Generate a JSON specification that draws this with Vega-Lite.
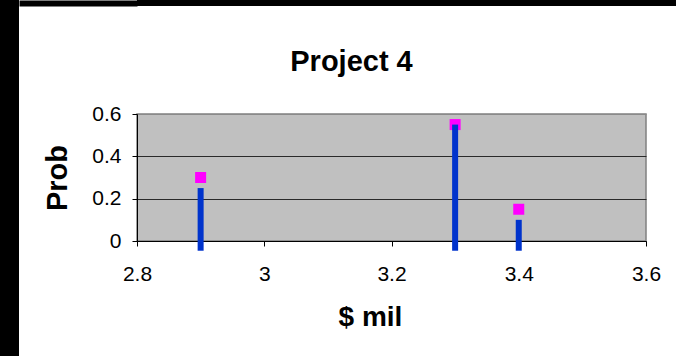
{
  "$schema": "https://vega.github.io/schema/vega-lite/v6.json",
  "background": "white",
  "padding": 0,
  "spacing": -3,
  "config": {"font": "Liberation Sans"},
  "hconcat": [
    {
      "width": 19,
      "height": 356,
      "data": {"values": []},
      "mark": "rect",
      "encoding": {},
      "view": {"fill": "black", "stroke": null}
    },
    {
      "spacing": -3,
      "vconcat": [
        {
          "width": 539,
          "height": 6,
          "data": {"values": [{"v": 0}]},
          "mark": {"type": "point", "opacity": 0},
          "encoding": {
            "y": {
              "field": "v",
              "type": "quantitative",
              "scale": {"domain": [0, 1]},
              "axis": {
                "values": [0.5],
                "tickSize": 118,
                "tickWidth": 6,
                "tickColor": "black",
                "tickCap": "butt",
                "labels": false,
                "domain": false,
                "grid": false,
                "title": null
              }
            }
          },
          "view": {"fill": "black", "stroke": null}
        },
        {
          "width": 509,
          "height": 127,
          "title": {
            "text": ["", "Project 4"],
            "fontSize": 29,
            "fontWeight": "bold",
            "color": "black",
            "lineHeight": 41,
            "offset": 26,
            "anchor": "middle",
            "frame": "group",
            "dx": -40
          },
          "view": {"fill": "#C0C0C0", "stroke": "#808080", "strokeWidth": 1.5},
          "data": {
            "values": [
              {"mil": 2.9, "prob": 0.3, "line": 0.25},
              {"mil": 3.3, "prob": 0.55, "line": 0.55},
              {"mil": 3.4, "prob": 0.15, "line": 0.1}
            ]
          },
          "encoding": {
            "x": {
              "field": "mil",
              "type": "quantitative",
              "scale": {"domain": [2.8, 3.6], "nice": false, "zero": false},
              "axis": {
                "values": [2.8, 3, 3.2, 3.4, 3.6],
                "format": "~g",
                "title": "$ mil",
                "titleFontSize": 28,
                "titleFontWeight": "bold",
                "titleColor": "black",
                "titleX": 233,
                "titleY": 62,
                "labelFontSize": 21,
                "labelColor": "black",
                "labelPadding": 17,
                "labelFlush": false,
                "tickSize": 5,
                "tickColor": "black",
                "domainColor": "black",
                "grid": false
              }
            }
          },
          "layer": [
            {
              "mark": {"type": "point", "shape": "square", "filled": true, "size": 121, "color": "#FF00FF", "opacity": 1},
              "encoding": {
                "y": {
                  "field": "prob",
                  "type": "quantitative",
                  "title": "Prob",
                  "scale": {"domain": [0, 0.6], "nice": false},
                  "axis": {
                    "values": [0, 0.2, 0.4, 0.6],
                    "format": "~g",
                    "title": "Prob",
                    "titleFontSize": 29,
                    "titleFontWeight": "bold",
                    "titleColor": "black",
                    "titlePadding": 19,
                    "labelFontSize": 21,
                    "labelColor": "black",
                    "labelPadding": 11,
                    "labelFlush": false,
                    "tickSize": 5,
                    "tickColor": "black",
                    "domainColor": "black",
                    "grid": true,
                    "gridOpacity": 1,
                    "gridColor": {"condition": {"test": "datum.value > 0.5", "value": "#8a8a8a"}, "value": "#2a2a2a"}
                  }
                }
              }
            },
            {
              "mark": {"type": "rule", "strokeWidth": 6, "color": "#0033CC", "strokeCap": "butt"},
              "encoding": {
                "y": {"field": "line", "type": "quantitative", "title": "Prob"},
                "y2": {"datum": -0.046}
              }
            }
          ]
        }
      ]
    }
  ]
}
